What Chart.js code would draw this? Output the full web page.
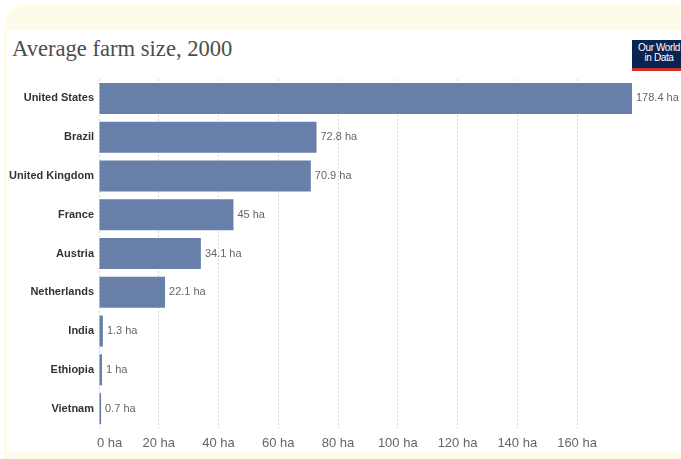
<!DOCTYPE html>
<html>
<head>
<meta charset="utf-8">
<script src="https://cdn.jsdelivr.net/npm/chart.js@4/dist/chart.umd.min.js"></script>
<style>
  html, body { margin: 0; padding: 0; background: #fff; }
  #frame { position: relative; width: 681px; height: 459px; overflow: hidden; }
  #cream { position: absolute; left: 4px; top: 4px; width: 700px; height: 480px; background: #fffbea; border-radius: 24px; }
  #panel { position: absolute; left: 7px; top: 30px; width: 690px; height: 422px; background: #fff; }
  #title { position: absolute; left: 12px; top: 36px; font-family: "Liberation Serif", "DejaVu Serif", serif; font-size: 22.6px; color: #4d4d4d; }
  #logo { position: absolute; left: 632px; top: 40px; width: 54px; height: 31px; background: #0b2350; border-bottom: 3px solid #d0322b;
          color: #fff; font-family: "Liberation Sans", Arial, sans-serif; font-size: 10px; line-height: 10px; text-align: center; padding-top: 3px; box-sizing: border-box; letter-spacing: -0.4px; }
  canvas { position: absolute; left: 0; top: 0; }
</style>
</head>
<body>
<div id="frame">
  <div id="cream"></div>
  <div id="panel"></div>
  <div id="title">Average farm size, 2000</div>
  <div id="logo">Our World<br>in Data</div>
  <canvas id="myChart" width="681" height="459"></canvas>
</div>
<script>
const countries = ['United States', 'Brazil', 'United Kingdom', 'France', 'Austria', 'Netherlands', 'India', 'Ethiopia', 'Vietnam'];
const farmSize = [178.4, 72.8, 70.9, 45, 34.1, 22.1, 1.3, 1, 0.7];
const tickValues = [0, 20, 40, 60, 80, 100, 120, 140, 160];
const unit = ' ha';

// value labels at the end of each bar + x tick labels
const labelPlugin = {
  id: 'labels',
  afterDatasetsDraw(chart) {
    const ctx = chart.ctx;
    const meta = chart.getDatasetMeta(0);
    ctx.save();
    ctx.font = '11px "Liberation Sans", Arial, sans-serif';
    ctx.fillStyle = '#666';
    ctx.textBaseline = 'middle';
    ctx.textAlign = 'left';
    meta.data.forEach((bar, i) => {
      ctx.fillText(farmSize[i] + unit, bar.x + 4, bar.y);
    });
    const xs = chart.scales.x;
    ctx.font = '13px "Liberation Sans", Arial, sans-serif';
    tickValues.forEach(v => {
      const px = xs.getPixelForValue(v);
      if (v === 0) {
        ctx.textAlign = 'left';
        ctx.fillText(v + unit, px - 2, 443);
      } else {
        ctx.textAlign = 'center';
        ctx.fillText(v + unit, px, 443);
      }
    });
    ctx.restore();
  }
};

const data = {
  labels: countries,
  datasets: [{
    data: farmSize,
    backgroundColor: '#687fa9',
    borderWidth: 0,
    barPercentage: 1,
    categoryPercentage: 0.8
  }]
};

const config = {
  type: 'bar',
  data: data,
  options: {
    indexAxis: 'y',
    responsive: false,
    animation: false,
    layout: { padding: { top: 79, right: 49, left: 0, bottom: 0 } },
    plugins: { legend: { display: false }, tooltip: { enabled: false } },
    scales: {
      x: {
        min: 0,
        max: 178.4,
        afterBuildTicks: s => { s.ticks = tickValues.map(v => ({ value: v })); },
        afterFit: s => { s.height = 31; },
        ticks: { display: false },
        border: { display: false },
        grid: { color: '#d6d6d6', lineWidth: 1, drawTicks: false }
      },
      y: {
        afterFit: s => { s.width = 99; },
        grid: { display: false, drawTicks: false },
        border: { display: false },
        ticks: {
          padding: 5,
          color: '#333',
          font: { family: '"Liberation Sans", Arial, sans-serif', size: 11, weight: 'bold' }
        }
      }
    }
  },
  plugins: [labelPlugin]
};

// dotted gridlines
config.options.scales.x.border.dash = [2, 2];

const myChart = new Chart(document.getElementById('myChart'), config);
</script>
</body>
</html>
